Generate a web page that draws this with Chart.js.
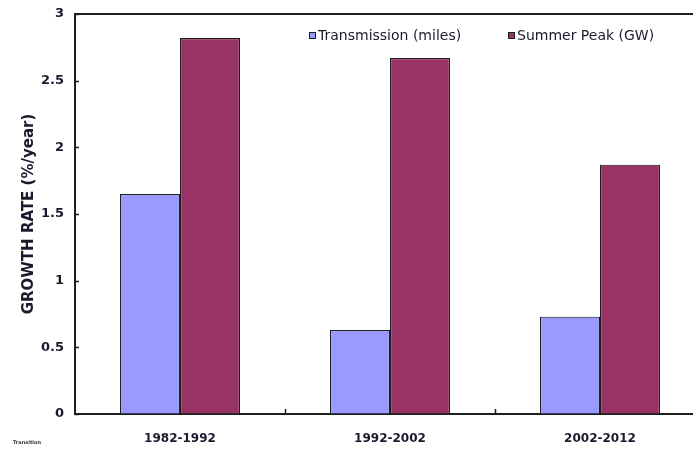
<!DOCTYPE html>
<html>
<head>
<meta charset="utf-8">
<script src="https://cdn.jsdelivr.net/npm/chart.js@4/dist/chart.umd.min.js"></script>
<style>
html,body{margin:0;padding:0;background:#fff;overflow:hidden;width:693px;height:452px;}
#wrap{position:absolute;left:0;top:0;width:720px;height:452px;}
</style>
</head>
<body>
<div id="wrap"><canvas id="c" width="720" height="452"></canvas></div>
<script>
const categories = ["1982-1992", "1992-2002", "2002-2012"];
const transmission = [1.65, 0.63, 0.73];
const summerPeak = [2.82, 2.67, 1.87];
const seriesNames = ["Transmission (miles)", "Summer Peak (GW)"];
const yTicks = [0, 0.5, 1, 1.5, 2, 2.5, 3];
const yTitle = "GROWTH RATE (%/year)";
const footNote = "Transition";

const INK = "#1e1e1e";

const framePlugin = {
  id: "frame",
  afterDatasetsDraw(chart) {
    const ctx = chart.ctx, a = chart.chartArea;
    const x = chart.scales.x, y = chart.scales.y;
    ctx.save();
    ctx.strokeStyle = INK;
    ctx.lineWidth = 2;
    ctx.beginPath();
    ctx.moveTo(a.left - 1, a.top);
    ctx.lineTo(a.right, a.top);
    ctx.lineTo(a.right, a.bottom);
    ctx.stroke();
    ctx.lineWidth = 1.5;
    y.ticks.forEach(t => {
      const py = Math.round(y.getPixelForValue(t.value)) + 0.5;
      ctx.beginPath();
      ctx.moveTo(a.left, py);
      ctx.lineTo(a.left + 4, py);
      ctx.stroke();
    });
    const n = categories.length;
    for (let i = 1; i < n; i++) {
      const px = Math.round((x.getPixelForValue(i - 1) + x.getPixelForValue(i)) / 2) + 0.5;
      ctx.beginPath();
      ctx.moveTo(px, a.bottom);
      ctx.lineTo(px, a.bottom - 5);
      ctx.stroke();
    }
    ctx.restore();
  },
  afterDraw(chart) {
    const ctx = chart.ctx;
    ctx.save();
    const xs = [309, 508];
    ctx.font = "14px 'DejaVu Sans'";
    ctx.textBaseline = "middle";
    chart.data.datasets.forEach((ds, i) => {
      const bx = xs[i];
      ctx.fillStyle = ds.backgroundColor;
      ctx.fillRect(bx, 32, 6, 6);
      ctx.strokeStyle = INK;
      ctx.lineWidth = 1;
      ctx.strokeRect(bx + 0.5, 32.5, 6, 6);
      ctx.fillStyle = "#1a1a2e";
      ctx.fillText(ds.label, bx + 9, 36);
    });
    ctx.font = "bold 5px 'DejaVu Sans'";
    ctx.fillStyle = "#333";
    ctx.fillText(footNote, 13, 443);
    ctx.restore();
  }
};

new Chart(document.getElementById("c"), {
  type: "bar",
  data: {
    labels: categories,
    datasets: [
      { label: seriesNames[0], data: transmission, backgroundColor: "#9999FF", borderColor: INK, borderWidth: 1.2 },
      { label: seriesNames[1], data: summerPeak, backgroundColor: "#993366", borderColor: INK, borderWidth: 1.2 }
    ]
  },
  options: {
    responsive: false,
    animation: false,
    devicePixelRatio: 1,
    layout: { padding: { top: 14, right: 15, left: 0, bottom: 0 } },
    datasets: { bar: { categoryPercentage: 120 / 210, barPercentage: 1 } },
    plugins: { legend: { display: false }, tooltip: { enabled: false } },
    scales: {
      x: {
        offset: true,
        grid: { display: true, drawOnChartArea: false, drawTicks: false },
        border: { display: true, color: INK, width: 2 },
        ticks: { color: "#1a1a2e", font: { family: "DejaVu Sans", size: 12, weight: "bold" }, padding: 18 },
        afterFit(s) { s.height = 38; s.paddingLeft = 0; s.paddingRight = 0; }
      },
      y: {
        min: 0, max: 3,
        afterBuildTicks(s) { s.ticks = yTicks.map(v => ({ value: v })); },
        grid: { display: true, drawOnChartArea: false, drawTicks: false },
        border: { display: true, color: INK, width: 2 },
        ticks: { color: "#1a1a2e", font: { family: "DejaVu Sans", size: 13, weight: "bold" }, padding: 11,
                 callback: v => String(v) },
        title: { display: true, text: yTitle, color: "#1a1a2e", font: { family: "DejaVu Sans", size: 15, weight: "bold" }, padding: { top: 20, bottom: 0 } },
        afterFit(s) { s.width = 75; s.paddingTop = 0; s.paddingBottom = 0; }
      }
    }
  },
  plugins: [framePlugin]
});
</script>
</body>
</html>
